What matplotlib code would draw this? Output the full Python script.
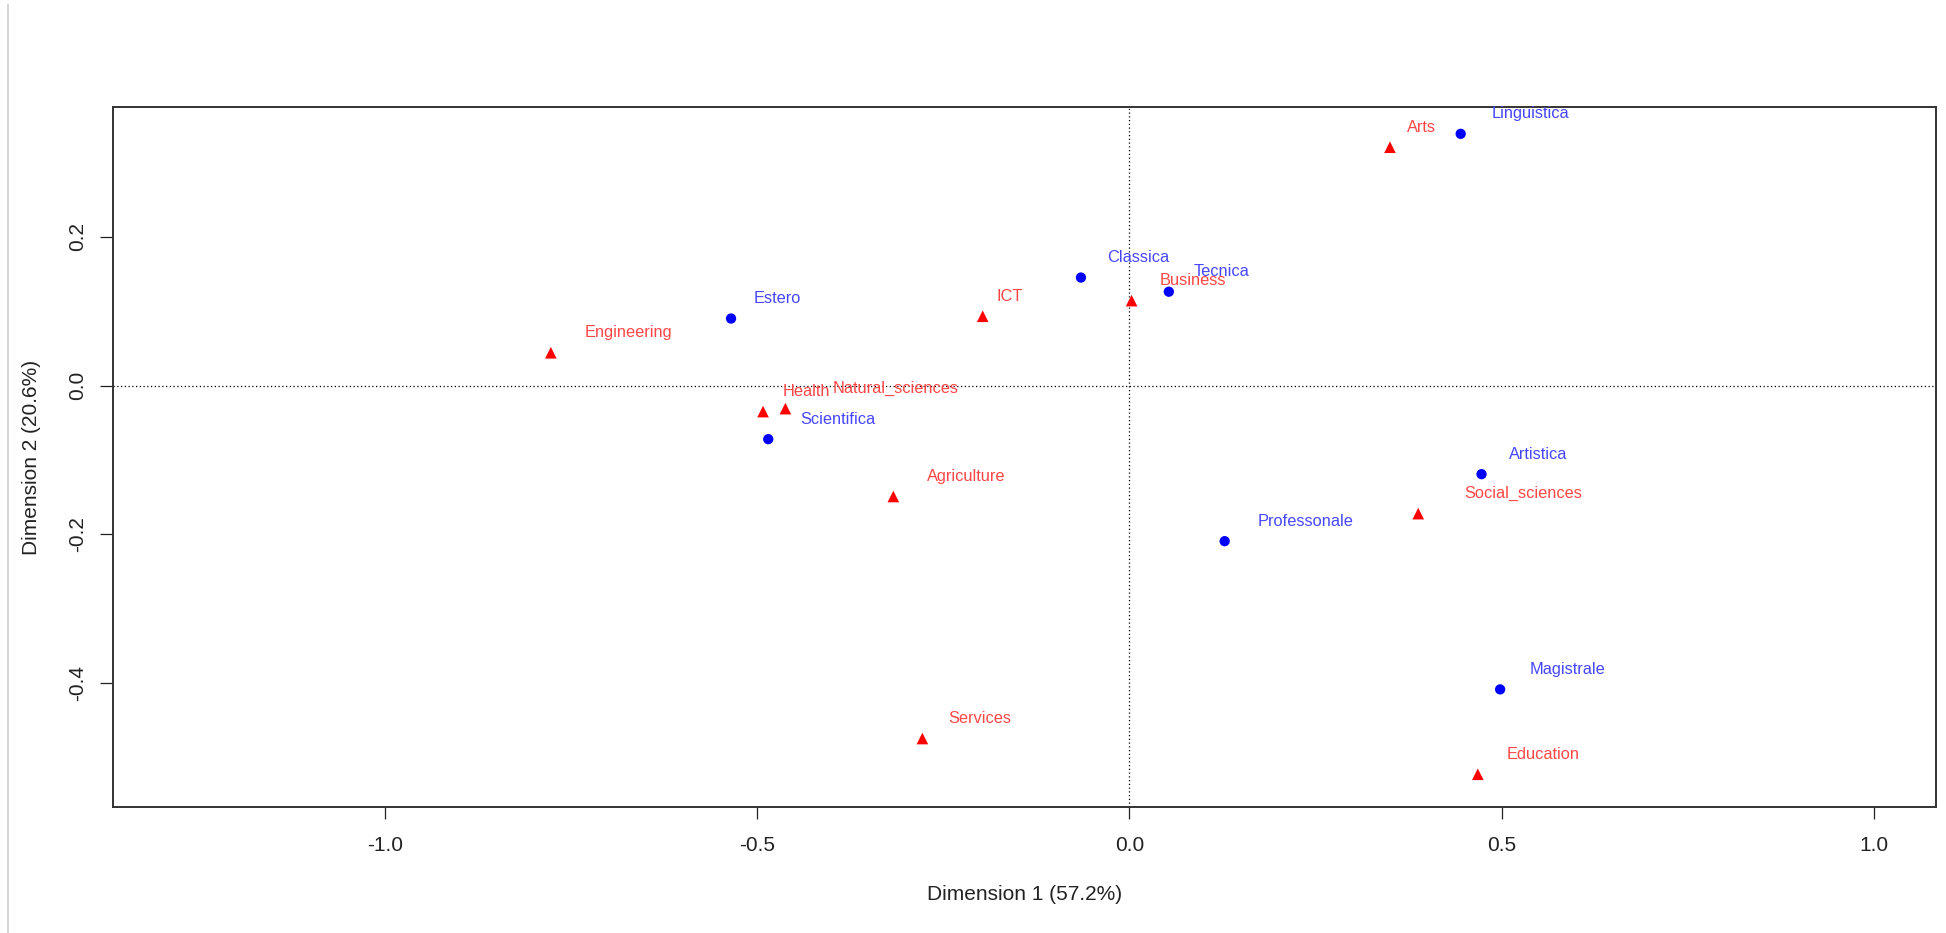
import matplotlib
matplotlib.use("Agg")
import matplotlib.pyplot as plt
from matplotlib.lines import Line2D

plt.rcParams['font.family'] = ['Liberation Sans', 'DejaVu Sans']

# righe (tipo di scuola) - cerchi blu
row_names = ["Linguistica", "Classica", "Tecnica", "Estero", "Scientifica",
             "Artistica", "Professonale", "Magistrale"]
row_x = [0.445, -0.065, 0.053, -0.535, -0.485, 0.473, 0.128, 0.498]
row_y = [0.338, 0.145, 0.126, 0.090, -0.072, -0.119, -0.209, -0.408]

# colonne (area di studio) - triangoli rossi
col_names = ["Arts", "Business", "ICT", "Engineering", "Health", "Natural_sciences",
             "Agriculture", "Social_sciences", "Services", "Education"]
col_x = [0.350, 0.003, -0.197, -0.777, -0.492, -0.462, -0.317, 0.388, -0.278, 0.468]
col_y = [0.320, 0.114, 0.093, 0.044, -0.035, -0.031, -0.149, -0.172, -0.474, -0.522]

# spostamento orizzontale delle etichette (punti)
row_dx = [22, 19, 18, 16, 23, 20, 24, 21]
col_dx = [12, 20, 10, 24, 14, 34, 24, 33, 19, 21]
label_dy = 14.3

fig = plt.figure(figsize=(19.46, 9.33), dpi=100)
ax = fig.add_axes([0.0581, 0.135, 0.9368, 0.7503])

ax.axhline(0, color='black', lw=0.9, ls=(0, (1, 2)), zorder=1)
ax.axvline(0, color='black', lw=0.9, ls=(0, (1, 2)), zorder=1)

ax.scatter(row_x, row_y, marker='o', s=55, color='#0000FF', edgecolors='none', zorder=3)
ax.scatter(col_x, col_y, marker='^', s=70, color='#FF0000', edgecolors='none', zorder=3)

for name, x, y, dx in zip(row_names, row_x, row_y, row_dx):
    ax.annotate(name, (x, y), xytext=(dx, label_dy), textcoords='offset points',
                ha='left', va='center', fontsize=11.8, color='#4646FF', zorder=4)
for name, x, y, dx in zip(col_names, col_x, col_y, col_dx):
    ax.annotate(name, (x, y), xytext=(dx, label_dy), textcoords='offset points',
                ha='left', va='center', fontsize=11.8, color='#FF4646', zorder=4)

ax.set_xlim(-1.365, 1.0835)
ax.set_ylim(-0.566, 0.374)

ax.set_xticks([-1.0, -0.5, 0.0, 0.5, 1.0])
ax.set_xticklabels(["-1.0", "-0.5", "0.0", "0.5", "1.0"])
ax.set_yticks([-0.4, -0.2, 0.0, 0.2])
ax.set_yticklabels(["-0.4", "-0.2", "0.0", "0.2"], rotation=90, va='center')

ax.tick_params(axis='x', length=8.6, width=0.9, pad=12, labelsize=15,
               color='#222222', labelcolor='#222222')
ax.tick_params(axis='y', length=9.4, width=0.9, pad=9, labelsize=15,
               color='#222222', labelcolor='#222222')

for sp in ax.spines.values():
    sp.set_linewidth(1.4)
    sp.set_color('#333333')

ax.set_xlabel("Dimension 1 (57.2%)", fontsize=15, labelpad=22, color='#222222')
ax.set_ylabel("Dimension 2 (20.6%)", fontsize=15, labelpad=20, color='#222222')

# bordo grigio a sinistra (screenshot)
fig.add_artist(Line2D([8 / 1946, 8 / 1946], [0, 0.995], color='#CCCCCC', lw=1.2))

fig.savefig("out.png", dpi=100)
